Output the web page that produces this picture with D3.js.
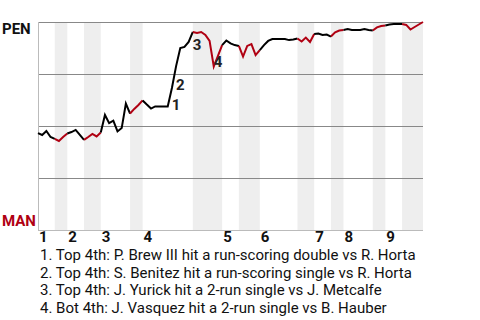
<!DOCTYPE html>
<html>
<head>
<meta charset="utf-8">
<script src="https://cdn.jsdelivr.net/npm/d3@7"></script>
<style>
  body { margin: 0; background: #fff; }
  svg text { font-family: Roboto, "Liberation Sans", sans-serif; }
</style>
</head>
<body>
<svg id="chart" width="480" height="320"></svg>
<script>
// PEN win probability (%) before the first pitch
var startWP = 46.6;

// PEN win probability (%) after each plate appearance, one list per half inning
var halfWP = [
  [45.7, 47.6, 44.7, 43.8],                                            // top 1
  [42.8, 44.7, 46.4],                                                  // bot 1
  [47.1, 48.1, 45.7, 43.3],                                            // top 2
  [44.7, 46.2, 45.0, 46.9],                                            // bot 2
  [55.3, 51.4, 52.6, 47.4, 49.0, 60.8, 56.0],                          // top 3
  [58.2, 60.1, 62.3],                                                  // bot 3
  [60.3, 58.4, 59.4, 59.4, 59.4, 59.4, 68.3, 78.8, 87.5, 88.0, 90.4, 95.2], // top 4
  [94.7, 95.2, 93.8, 90.9, 78.6, 83.7, 88.9],                          // bot 4
  [91.1, 89.7, 88.9, 88.5],                                            // top 5
  [83.4, 88.5, 89.4, 84.1, 86.5],                                      // bot 5
  [88.9, 90.9, 91.8, 91.8, 91.8, 91.8, 91.3, 91.6, 92.1],              // top 6
  [90.6, 92.5, 90.4, 94.2],                                            // bot 6
  [94.5, 93.8, 94.0, 93.0],                                            // top 7
  [95.0, 95.9, 96.2],                                                  // bot 7
  [96.6, 96.2, 96.2, 96.2, 96.6, 96.2, 95.9],                          // top 8
  [97.4, 98.1, 98.3],                                                  // bot 8
  [98.8, 99.0, 99.0, 99.0],                                            // top 9
  [98.6, 96.4, 97.6, 98.8, 100]                                        // bot 9
];

var inningLabels = ["1", "2", "3", "4", "5", "6", "7", "8", "9"];
var gridTicks = [25, 50, 75, 100];
var teams = { top: "PEN", bottom: "MAN" };

// key plays: plate appearance number (overall) and description
var eventPA = [32, 33, 37, 42];
var eventText = [
  "1. Top 4th: P. Brew III hit a run-scoring double vs R. Horta",
  "2. Top 4th: S. Benitez hit a run-scoring single vs R. Horta",
  "3. Top 4th: J. Yurick hit a 2-run single vs J. Metcalfe",
  "4. Bot 4th: J. Vasquez hit a 2-run single vs B. Hauber"
];

var colors = { top: "#000", bottom: "#b00012", band: "#eeeeee", grid: "#888", axis: "#bbb" };

// flatten into one point list with half-inning boundaries
var points = [{ i: 0, wp: startWP }];
var halves = [];
halfWP.forEach(function(list, h) {
  var first = points.length - 1;
  list.forEach(function(v) { points.push({ i: points.length, wp: v }); });
  halves.push({ h: h, start: first, end: points.length - 1, bottom: h % 2 == 1 });
});
var total = points.length - 1;

var svg = d3.select("#chart");
var x = d3.scaleLinear().domain([0, total]).range([38, 423]);
var y = d3.scaleLinear().domain([0, 100]).range([230, 22]);

// shaded bottom halves
svg.append("g").selectAll("rect")
  .data(halves.filter(function(d) { return d.bottom; }))
  .enter().append("rect")
  .attr("x", function(d) { return x(d.start); })
  .attr("width", function(d) { return x(d.end) - x(d.start); })
  .attr("y", y(100))
  .attr("height", y(0) - y(100))
  .attr("fill", colors.band);

// horizontal grid
svg.append("g").selectAll("line")
  .data(gridTicks)
  .enter().append("line")
  .attr("x1", x(0)).attr("x2", x(total))
  .attr("y1", function(d) { return y(d) + 0.5; })
  .attr("y2", function(d) { return y(d) + 0.5; })
  .attr("stroke", colors.grid);

// left and bottom edges
svg.append("line")
  .attr("x1", x(0) + 0.5).attr("x2", x(0) + 0.5)
  .attr("y1", y(100)).attr("y2", y(0) + 0.5)
  .attr("stroke", colors.axis);
svg.append("line")
  .attr("x1", x(0)).attr("x2", x(total))
  .attr("y1", y(0) + 0.5).attr("y2", y(0) + 0.5)
  .attr("stroke", colors.axis);

// win probability line, one path per half inning
var line = d3.line()
  .x(function(d) { return x(d.i); })
  .y(function(d) { return y(d.wp); });
svg.append("g").selectAll("path")
  .data(halves)
  .enter().append("path")
  .attr("d", function(d) { return line(points.slice(d.start, d.end + 1)); })
  .attr("fill", "none")
  .attr("stroke", function(d) { return d.bottom ? colors.bottom : colors.top; })
  .attr("stroke-width", 2);

// event numbers next to the plays
svg.append("g").selectAll("text")
  .data(eventPA)
  .enter().append("text")
  .attr("x", function(d) { return (x(d - 1) + x(d)) / 2 + 2; })
  .attr("y", function(d) { return (y(points[d - 1].wp) + y(points[d].wp)) / 2 + 13; })
  .attr("font-size", 15)
  .attr("font-weight", "bold")
  .attr("fill", "#222")
  .text(function(d, i) { return i + 1; });

// team labels
svg.append("text")
  .attr("x", 2).attr("y", 34)
  .attr("font-size", 15).attr("font-weight", "bold")
  .attr("fill", "#111")
  .text(teams.top);
svg.append("text")
  .attr("x", 2).attr("y", 226)
  .attr("font-size", 15).attr("font-weight", "bold")
  .attr("fill", colors.bottom)
  .text(teams.bottom);

// inning labels at the start of each top half
svg.append("g").selectAll("text")
  .data(inningLabels)
  .enter().append("text")
  .attr("x", function(d, i) { return x(halves[i * 2].start) + 1; })
  .attr("y", 242)
  .attr("font-size", 15)
  .attr("font-weight", "bold")
  .attr("fill", "#111")
  .text(function(d) { return d; });

// play descriptions
svg.append("g").selectAll("text")
  .data(eventText)
  .enter().append("text")
  .attr("x", 40)
  .attr("y", function(d, i) { return 260 + i * 17.7; })
  .attr("font-size", 15)
  .attr("fill", "#111")
  .text(function(d) { return d; });
</script>
</body>
</html>
